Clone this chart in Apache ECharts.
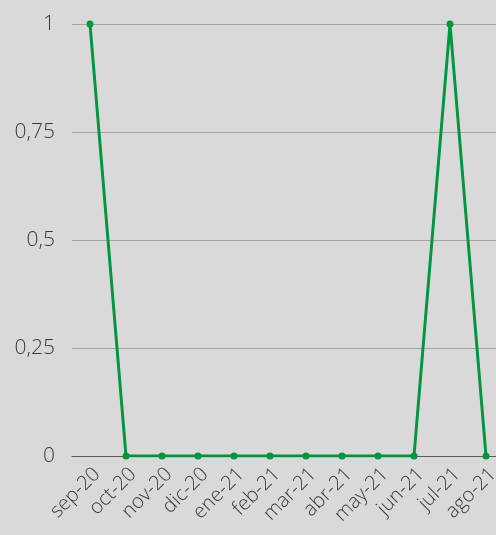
<!DOCTYPE html>
<html><head><meta charset="utf-8">
<script src="https://cdn.jsdelivr.net/npm/echarts@6/dist/echarts.min.js"></script>
<style>html,body{margin:0;padding:0;background:#d9d9d9;overflow:hidden;}#c{width:504px;height:535px;}</style>
</head><body><div id="c"></div>
<script>
var categories = ['sep-20','oct-20','nov-20','dic-20','ene-21','feb-21','mar-21','abr-21','may-21','jun-21','jul-21','ago-21'];
var values = [1,0,0,0,0,0,0,0,0,0,1,0];
var yTicks = [0,0.25,0.5,0.75,1];
var chart = echarts.init(document.getElementById('c'));
chart.setOption({
  backgroundColor:'#d9d9d9',
  animation:false,
  grid:{left:72,top:24,width:432,height:432,containLabel:false},
  xAxis:{type:'category',data:categories,boundaryGap:true,
    axisLine:{lineStyle:{color:'#595959',width:1}},
    axisTick:{show:false},
    axisLabel:{rotate:45,interval:0,fontSize:20,color:'#3a3a3a',fontFamily:'Open Sans',fontWeight:300,margin:8,verticalAlign:'top'}},
  yAxis:{type:'value',min:0,max:1,interval:0.25,
    axisLine:{show:false},axisTick:{show:false},
    splitLine:{lineStyle:{color:'#a6a6a6',width:1}},
    axisLabel:{fontSize:21,color:'#3a3a3a',fontFamily:'Open Sans',fontWeight:300,margin:17,
      formatter:function(v){return String(v).replace('.',',');}}},
  series:[{type:'line',data:values,symbol:'circle',symbolSize:7,
    lineStyle:{color:'#009640',width:3},itemStyle:{color:'#009640'}}]
});
</script></body></html>
